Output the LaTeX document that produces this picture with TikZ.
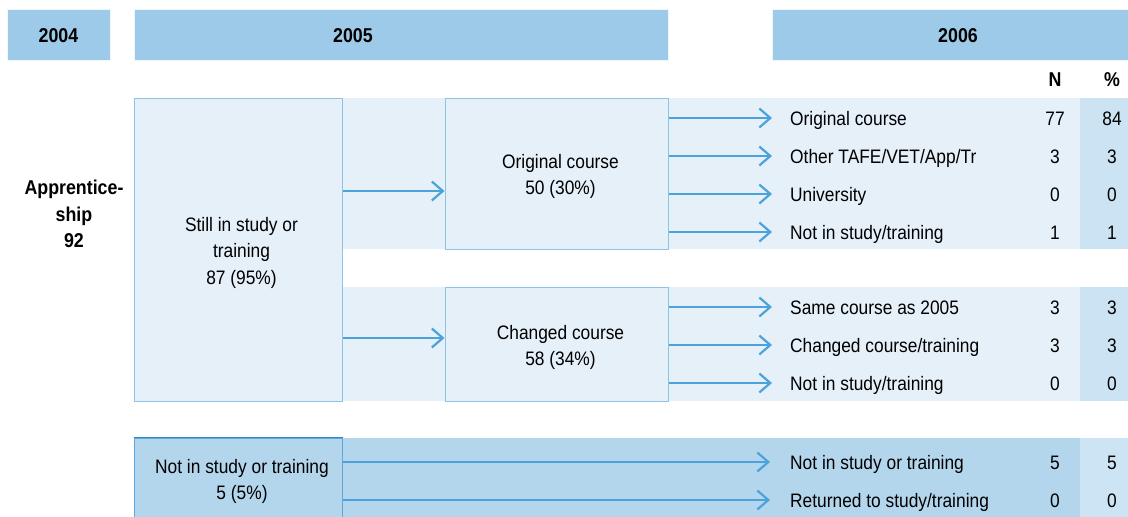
\documentclass[tikz,border=0pt]{standalone}
\usepackage{fontspec}
\setmainfont{Liberation Sans}[FakeStretch=0.89]
\usetikzlibrary{arrows.meta}

\definecolor{hdrblue}{HTML}{9DCAE8}
\definecolor{bandlight}{HTML}{E5F0F9}
\definecolor{pctupper}{HTML}{CCE3F3}
\definecolor{banddark}{HTML}{B4D6EC}
\definecolor{pctlower}{HTML}{CDE4F4}
\definecolor{boxline}{HTML}{8EC3E8}
\definecolor{arrowblue}{HTML}{4CA2DA}
\definecolor{edgeblue}{HTML}{2F86CF}
\definecolor{notinline}{HTML}{5EA8DC}

\tikzset{
  hdrbar/.style={fill=hdrblue, draw=white!85!hdrblue, line width=0.6pt, inner sep=0pt},
  hdrtext/.style={font=\fontsize{20}{24}\selectfont\bfseries, inner sep=0pt},
  stagebox/.style={draw=boxline, fill=bandlight, line width=1pt, inner sep=0pt},
  stagetext/.style={inner sep=0pt, align=center, font=\fontsize{19.5}{26.5}\selectfont},
  rowlabel/.style={anchor=west, inner xsep=18pt, inner ysep=0pt,
    text height=15pt, text depth=0pt},
  cell/.style={inner sep=0pt, text height=15pt, text depth=0pt},
  flow/.style={draw=arrowblue, line width=2.2pt,
    -{Straight Barb[length=11pt,width=19pt,line width=2.2pt]}}
}

\begin{document}
\begin{tikzpicture}[x=1pt, y=-1pt, font=\fontsize{19.5}{24}\selectfont]
\useasboundingbox (0,0) rectangle (1128,517);

% background bands behind the 2006 outcome rows
\fill[bandlight] (342,98) rectangle (1080,249);
\fill[pctupper]  (1080,98) rectangle (1128,249);
\fill[bandlight] (342,287) rectangle (1080,401);
\fill[pctupper]  (1080,287) rectangle (1128,401);
\fill[banddark]  (134,438) rectangle (1080,517);
\fill[pctlower]  (1080,438) rectangle (1128,517);

% year headers
\node[hdrbar, minimum width=103, minimum height=51] (h04) at (58.5,34.5) {};
\node[hdrtext] at ([yshift=-1pt]h04.center) {2004};
\node[hdrbar, minimum width=534, minimum height=51] (h05) at (401,34.5) {};
\node[hdrtext] at ([xshift=-48pt,yshift=-1pt]h05.center) {2005};
\node[hdrbar, minimum width=356, minimum height=51] (h06) at (950,34.5) {};
\node[hdrtext] at ([xshift=8pt,yshift=-1pt]h06.center) {2006};

\node[hdrtext] (colN) at (1055,80) {N};
\node[hdrtext] (colP) at (1112,80) {\%};

% 2004 cohort
\node[align=center, font=\fontsize{20}{26.5}\selectfont\bfseries, inner sep=0pt]
  (app) at (74,214) {Apprentice-\\ship\\92};

% 2005 stages
\node[stagebox, minimum width=208, minimum height=303] (still) at (238,249.5) {};
\node[stagebox, minimum width=223, minimum height=151] (orig) at (556.5,173.5) {};
\node[stagebox, minimum width=223, minimum height=114] (chg) at (556.5,344) {};
\node[stagebox, draw=notinline, fill=banddark, minimum width=208, minimum height=79]
  (notin) at (238,477.5) {};
\draw[edgeblue, line width=1pt] (notin.north west) -- (notin.north east);

\node[stagetext] (still-t) at ([xshift=3.5pt,yshift=-3pt]still.center)
  {Still in study or\\training\\87 (95\%)};
\node[stagetext] (orig-t) at ([xshift=4pt,yshift=-3pt]orig.center)
  {Original course\\50 (30\%)};
\node[stagetext] (chg-t) at ([xshift=4pt,yshift=-3.5pt]chg.center)
  {Changed course\\58 (34\%)};
\node[stagetext] (notin-t) at ([xshift=4pt,yshift=-4pt]notin.center)
  {Not in study or training\\5 (5\%)};

% entry points of the arrows into the 2005 course boxes
\coordinate (origin) at ([yshift=-17.5pt]orig.west);
\coordinate (chgin) at ([yshift=6pt]chg.west);
\draw[flow] (still.east |- origin) -- (origin);
\draw[flow] (still.east |- chgin) -- (chgin);

% 2006 outcomes of those in the original course
\node[rowlabel] (o1) at (772,118) {Original course};
\node[rowlabel] (o2) at (772,156) {Other TAFE/VET/App/Tr};
\node[rowlabel] (o3) at (772,194) {University};
\node[rowlabel] (o4) at (772,232) {Not in study/training};
\foreach \r in {o1,o2,o3,o4}
  \draw[flow] (orig.east |- \r.west) -- (\r.west);

% 2006 outcomes of those who changed course
\node[rowlabel] (c1) at (772,307) {Same course as 2005};
\node[rowlabel] (c2) at (772,345) {Changed course/training};
\node[rowlabel] (c3) at (772,383) {Not in study/training};
\foreach \r in {c1,c2,c3}
  \draw[flow] (chg.east |- \r.west) -- (\r.west);

% 2006 outcomes of those not in study
\node[rowlabel, inner xsep=20pt] (n1) at (770,462) {Not in study or training};
\node[rowlabel, inner xsep=20pt] (n2) at (770,500) {Returned to study/training};
\foreach \r in {n1,n2}
  \draw[flow] (notin.east |- \r.west) -- (\r.west);

% counts and percentages
\foreach \r/\n/\p in {o1/77/84, o2/3/3, o3/0/0, o4/1/1,
                      c1/3/3, c2/3/3, c3/0/0, n1/5/5, n2/0/0} {
  \node[cell] at (colN |- \r.west) {\n};
  \node[cell] at (colP |- \r.west) {\p};
}
\end{tikzpicture}
\end{document}
